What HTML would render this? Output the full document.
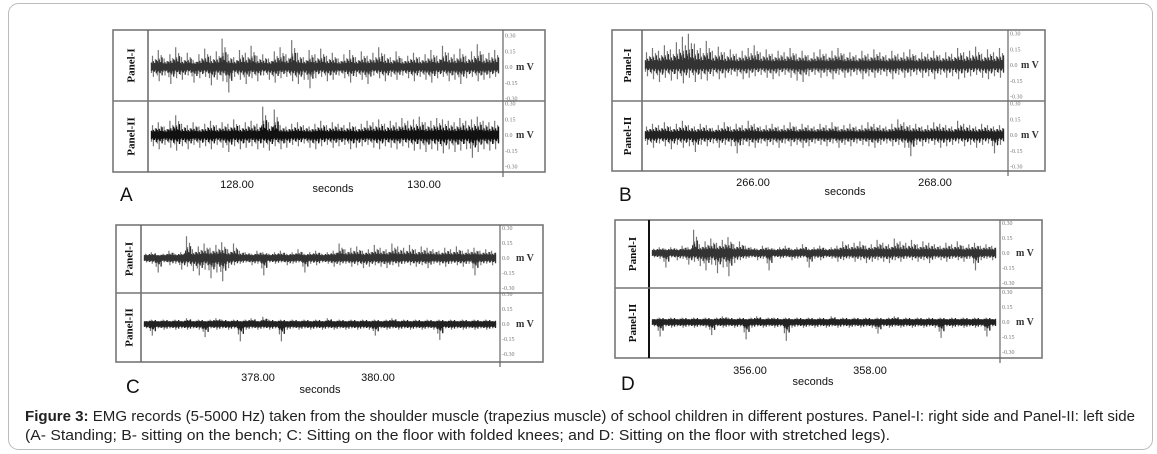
<!DOCTYPE html>
<html><head><meta charset="utf-8"><style>
body{margin:0;background:#fff;width:1157px;height:454px;overflow:hidden;font-family:"Liberation Sans",Arial,sans-serif}
svg{display:block}
.tk{font-family:"Liberation Serif",serif;font-size:6px;fill:#777}
.mv{font-family:"Liberation Serif",serif;font-size:10px;font-weight:bold;fill:#333}
.pl{font-family:"Liberation Serif",serif;font-size:11px;font-weight:bold;fill:#111}
.ax{font-size:11px;fill:#111}
.let{font-size:19px;fill:#111}
.cap{font-size:15px;fill:#222}
</style></head><body>
<svg id="fig" width="1157" height="454" xmlns="http://www.w3.org/2000/svg">
<rect x="8.5" y="3.5" width="1144" height="446" rx="10" fill="none" stroke="#bbb" stroke-width="1"/>
<text class="cap" x="25" y="421" textLength="1110" lengthAdjust="spacingAndGlyphs"><tspan font-weight="bold">Figure 3:</tspan> EMG records (5-5000 Hz) taken from the shoulder muscle (trapezius muscle) of school children in different postures. Panel-I: right side and Panel-II: left side</text>
<text class="cap" x="25" y="440" textLength="865" lengthAdjust="spacingAndGlyphs">(A- Standing; B- sitting on the bench; C: Sitting on the floor with folded knees; and D: Sitting on the floor with stretched legs).</text>
</svg>
<script>
// EMG envelope data (mV), max and min per time bin
const aHi1=[.08,.12,.06,.09,.14,.07,.1,.05,.09,.13,.08,.11,.2,.09,.07,.12,.1,.15,.08,.09,.06,.11,.14,.09,.19,.1,.07,.12,.09,.13,.08,.1,.06,.09,.12,.07,.11,.08,.1,.14,.09,.07,.11,.06,.08,.1,.07,.09,.12,.08,.15,.1,.09,.13,.08,.11,.16,.09,.1,.12];
const aLo1=[-.07,-.1,-.06,-.12,-.08,-.09,-.06,-.11,-.08,-.07,-.13,-.09,-.1,-.18,-.07,-.09,-.12,-.08,-.1,-.06,-.09,-.11,-.08,-.07,-.1,-.12,-.09,-.15,-.08,-.07,-.1,-.09,-.06,-.08,-.11,-.07,-.09,-.12,-.06,-.08,-.1,-.07,-.09,-.06,-.08,-.1,-.07,-.09,-.11,-.08,-.07,-.1,-.09,-.12,-.08,-.07,-.1,-.09,-.08,-.07];
const aHi2=[.07,.09,.06,.1,.14,.08,.07,.09,.06,.08,.1,.07,.09,.08,.11,.07,.09,.1,.08,.2,.09,.18,.07,.06,.08,.09,.07,.06,.08,.1,.07,.09,.08,.07,.09,.06,.08,.1,.09,.11,.08,.1,.09,.12,.1,.11,.13,.09,.1,.12,.11,.1,.09,.12,.1,.11,.13,.1,.09,.1];
const aLo2=[-.08,-.1,-.07,-.09,-.11,-.08,-.1,-.07,-.09,-.08,-.1,-.07,-.09,-.12,-.08,-.1,-.09,-.08,-.1,-.09,-.11,-.08,-.1,-.09,-.07,-.08,-.06,-.09,-.1,-.08,-.07,-.09,-.08,-.07,-.1,-.09,-.08,-.07,-.09,-.1,-.08,-.09,-.1,-.08,-.09,-.11,-.1,-.12,-.1,-.11,-.13,-.1,-.12,-.11,-.1,-.16,-.12,-.1,-.11,-.1];
const bHi1=[.09,.12,.1,.14,.11,.16,.2,.22,.15,.12,.17,.1,.13,.09,.11,.08,.1,.12,.14,.09,.11,.08,.1,.09,.12,.08,.1,.07,.09,.11,.08,.1,.12,.08,.09,.07,.1,.08,.11,.09,.07,.1,.08,.09,.11,.07,.09,.08,.1,.07,.09,.08,.12,.09,.1,.13,.08,.11,.09,.12];
const bLo1=[-.08,-.1,-.12,-.09,-.11,-.1,-.13,-.09,-.12,-.1,-.11,-.08,-.1,-.09,-.07,-.08,-.1,-.09,-.08,-.07,-.09,-.1,-.08,-.07,-.09,-.11,-.12,-.08,-.07,-.09,-.08,-.1,-.07,-.09,-.08,-.07,-.1,-.08,-.09,-.07,-.08,-.1,-.07,-.09,-.08,-.07,-.09,-.08,-.1,-.07,-.09,-.08,-.1,-.09,-.08,-.07,-.09,-.1,-.08,-.09];
const bHi2=[.06,.08,.07,.09,.06,.08,.1,.07,.06,.08,.07,.05,.07,.09,.06,.08,.07,.1,.08,.06,.07,.08,.06,.07,.09,.06,.08,.07,.06,.08,.07,.09,.06,.07,.08,.06,.07,.09,.08,.07,.06,.08,.11,.09,.07,.08,.06,.07,.09,.08,.07,.06,.1,.08,.07,.06,.08,.07,.06,.07];
const bLo2=[-.07,-.09,-.06,-.08,-.1,-.07,-.09,-.08,-.12,-.07,-.08,-.06,-.09,-.07,-.08,-.13,-.07,-.08,-.09,-.06,-.08,-.07,-.09,-.06,-.08,-.07,-.09,-.08,-.06,-.07,-.08,-.06,-.09,-.07,-.08,-.06,-.07,-.08,-.09,-.07,-.06,-.08,-.07,-.09,-.15,-.07,-.08,-.06,-.07,-.09,-.08,-.07,-.06,-.08,-.07,-.09,-.07,-.06,-.13,-.07];
const cHi1=[.03,.04,.02,.03,.05,.03,.04,.15,.06,.08,.1,.07,.09,.11,.06,.1,.05,.04,.03,.05,.04,.03,.04,.05,.03,.04,.06,.03,.04,.05,.03,.04,.05,.1,.06,.07,.08,.05,.06,.09,.07,.06,.1,.08,.07,.09,.06,.08,.07,.06,.05,.07,.06,.08,.05,.06,.07,.05,.06,.05];
const cLo1=[-.03,-.04,-.1,-.03,-.05,-.04,-.08,-.06,-.09,-.12,-.08,-.14,-.1,-.16,-.07,-.05,-.04,-.03,-.05,-.04,-.12,-.03,-.04,-.03,-.05,-.04,-.03,-.1,-.04,-.05,-.03,-.04,-.06,-.05,-.04,-.06,-.05,-.07,-.06,-.05,-.06,-.07,-.05,-.06,-.04,-.05,-.06,-.05,-.07,-.04,-.05,-.06,-.04,-.05,-.06,-.04,-.12,-.05,-.04,-.05];
const cHi2=[.02,.03,.02,.03,.02,.03,.02,.04,.02,.03,.02,.03,.04,.03,.02,.03,.02,.03,.04,.02,.05,.03,.02,.03,.02,.03,.02,.03,.02,.03,.02,.04,.02,.03,.02,.03,.02,.03,.02,.03,.02,.03,.04,.02,.03,.02,.03,.02,.03,.02,.03,.02,.03,.02,.03,.02,.03,.02,.03,.02];
const cLo2=[-.03,-.08,-.03,-.04,-.03,-.04,-.03,-.04,-.03,-.04,-.09,-.03,-.04,-.03,-.04,-.03,-.12,-.04,-.03,-.04,-.03,-.04,-.03,-.12,-.04,-.03,-.04,-.03,-.04,-.03,-.04,-.03,-.04,-.03,-.04,-.03,-.04,-.03,-.04,-.08,-.03,-.04,-.03,-.04,-.03,-.04,-.03,-.04,-.03,-.04,-.11,-.03,-.04,-.03,-.04,-.03,-.04,-.03,-.04,-.03];
const dHi1=[.03,.04,.03,.04,.03,.05,.04,.16,.06,.08,.1,.07,.09,.11,.06,.08,.05,.04,.03,.05,.04,.03,.04,.05,.03,.04,.06,.03,.04,.05,.03,.04,.05,.08,.06,.07,.08,.05,.06,.09,.07,.06,.1,.08,.07,.09,.06,.08,.07,.06,.05,.07,.06,.08,.05,.06,.07,.05,.06,.05];
const dLo1=[-.03,-.04,-.1,-.03,-.05,-.04,-.08,-.06,-.09,-.12,-.08,-.14,-.1,-.16,-.07,-.05,-.04,-.03,-.05,-.04,-.12,-.03,-.04,-.03,-.05,-.04,-.03,-.1,-.04,-.05,-.03,-.04,-.06,-.05,-.04,-.06,-.05,-.07,-.06,-.05,-.06,-.07,-.05,-.06,-.04,-.05,-.06,-.05,-.07,-.04,-.05,-.06,-.04,-.05,-.06,-.04,-.12,-.05,-.04,-.05];
const dHi2=[.02,.03,.02,.03,.02,.03,.02,.03,.02,.03,.02,.03,.04,.03,.02,.03,.02,.03,.04,.02,.03,.03,.02,.03,.02,.03,.02,.03,.02,.03,.02,.04,.02,.03,.02,.03,.02,.03,.02,.03,.02,.03,.04,.02,.03,.02,.03,.02,.03,.02,.03,.02,.03,.02,.03,.02,.03,.02,.03,.02];
const dLo2=[-.03,-.1,-.03,-.04,-.03,-.04,-.03,-.04,-.03,-.04,-.09,-.03,-.04,-.03,-.04,-.03,-.12,-.04,-.03,-.04,-.03,-.04,-.03,-.13,-.04,-.03,-.04,-.03,-.04,-.03,-.04,-.03,-.04,-.03,-.04,-.03,-.04,-.03,-.04,-.08,-.03,-.04,-.03,-.04,-.03,-.04,-.03,-.04,-.03,-.04,-.11,-.03,-.04,-.03,-.04,-.03,-.04,-.03,-.1,-.03];
const timeTicksA=["128.00","130.00"],timeTicksB=["266.00","268.00"],timeTicksC=["378.00","380.00"],timeTicksD=["356.00","358.00"];
const ampTicks=[0.30,0.15,0.0,-0.15,-0.30];

const svg=document.getElementById('fig');
const NS='http://www.w3.org/2000/svg';
function mk(tag,attrs,parent){const e=document.createElementNS(NS,tag);for(const k in attrs)e.setAttribute(k,attrs[k]);(parent||svg).appendChild(e);return e;}

// rendering style: sub-strokes per bin (fractions of the bin envelope)
const subFrac=[0.35,1,0.5,0.25,0.7,0.4];
const subFracLo=[0.6,0.3,1,0.45,0.25,0.55];

const panels=[
 {id:'a',L:'A',x0:113,x1:545,y0:30,y1:172,lc:148,mid:101,ra:503,c1:67,c2:135,hi1:aHi1,lo1:aLo1,hi2:aHi2,lo2:aLo2,ticks:timeTicksA,tx:[237,424],ty:188,sx:333,sy:192,lx:120,ly:201,dark2:'#111',mvx:13,gain:1.35},
 {id:'b',L:'B',x0:612,x1:1045,y0:30,y1:171,lc:642,mid:101,ra:1008,c1:65,c2:135,hi1:bHi1,lo1:bLo1,hi2:bHi2,lo2:bLo2,ticks:timeTicksB,tx:[753,935],ty:186,sx:845,sy:195,lx:619,ly:201,dark2:'#222',mvx:13,gain:1.35},
 {id:'c',L:'C',x0:116,x1:543,y0:225,y1:362,lc:141,mid:293,ra:500,c1:258,c2:324,hi1:cHi1,lo1:cLo1,hi2:cHi2,lo2:cLo2,ticks:timeTicksC,tx:[258,378],ty:381,sx:320,sy:393,lx:126,ly:393,dark2:'#222',mvx:16,gain:1.45},
 {id:'d',L:'D',x0:615,x1:1042,y0:220,y1:358,lc:649,mid:288,ra:1000,c1:253,c2:322,hi1:dHi1,lo1:dLo1,hi2:dHi2,lo2:dLo2,ticks:timeTicksD,tx:[750,870],ty:374,sx:813,sy:385,lx:621,ly:390,dark2:'#222',mvx:16,gain:1.45}
];

panels.forEach(p=>{
  const g=mk('g',{});
  
  
  const box=mk('rect',{x:p.x0,y:p.y0,width:p.x1-p.x0,height:p.y1-p.y0,fill:'none',stroke:'#777','stroke-width':1.6},g);
  
  
  const lc=mk('line',{x1:p.lc,x2:p.lc,y1:p.y0,y2:p.y1,stroke:p.id==='d'?'#111':'#666','stroke-width':p.id==='d'?2:1.5},g);
  
  
  const md=mk('line',{x1:p.x0,x2:p.x1,y1:p.mid,y2:p.mid,stroke:'#777','stroke-width':1.5},g);
  
  
  const ra=mk('line',{x1:p.ra,x2:p.ra,y1:p.y0,y2:p.y1+5,stroke:'#666','stroke-width':1.2},g);
  
  
  const half=(p.mid-p.y0)/2-4;
  const xs=p.lc+3, xe=p.ra-4;
  [[p.c1,p.hi1,p.lo1,'Panel-I',(p.y0+p.mid)/2,'#333','i'],[p.c2,p.hi2,p.lo2,'Panel-II',(p.mid+p.y1)/2,p.dark2,'ii']].forEach(([c,hi,lo,lab,lcY,col,k])=>{
    const tick=v=>c - v/0.30*half;
    const sy=v=>c - v*p.gain/0.30*half;
    const n=hi.length, dx=(xe-xs)/n, m=subFrac.length;
    let dg='', dd='';
    for(let i=0;i<n;i++){
      for(let j=0;j<m;j++){
        const x=(xs+i*dx+j*dx/m+0.5).toFixed(1);
        dg+='M'+x+','+sy(hi[i]*subFrac[j]).toFixed(1)+'V'+sy(lo[i]*subFracLo[j]).toFixed(1);
        dd+='M'+x+','+sy(hi[i]*0.45*subFrac[(j+2)%m]+0.014).toFixed(1)+'V'+sy(lo[i]*0.45*subFracLo[(j+3)%m]-0.014).toFixed(1);
      }
    }
    const tr=mk('path',{d:dg,fill:'none',stroke:'#777','stroke-width':1.2},g);
    
    
    const core=mk('path',{d:dd,fill:'none',stroke:col,'stroke-width':1.3},g);
    
    
    const t=mk('text',{class:'pl',x:0,y:0,'text-anchor':'middle',transform:`translate(${(p.x0+p.lc)/2+4},${lcY}) rotate(-90)`},g);
    t.textContent=lab;
    
    
    ampTicks.forEach(v=>{
      const tt=mk('text',{class:'tk',x:p.ra+2,y:tick(v)+2},g);
      tt.textContent=v===0?'0.0':v.toFixed(2);
      
      
    });
    const mv=mk('text',{class:'mv',x:p.ra+p.mvx,y:c+3},g);
    mv.textContent='m V';
    
    
  });
  p.ticks.forEach((t,i)=>{
    const e=mk('text',{class:'ax',x:p.tx[i],y:p.ty,'text-anchor':'middle'},g);
    e.textContent=t;
    
    
  });
  const s=mk('text',{class:'ax',x:p.sx,y:p.sy,'text-anchor':'middle'},g);
  s.textContent='seconds';
  
  
  const L=mk('text',{class:'let',x:p.lx,y:p.ly},g);
  L.textContent=p.L;
  
  
});
</script>
</body></html>
